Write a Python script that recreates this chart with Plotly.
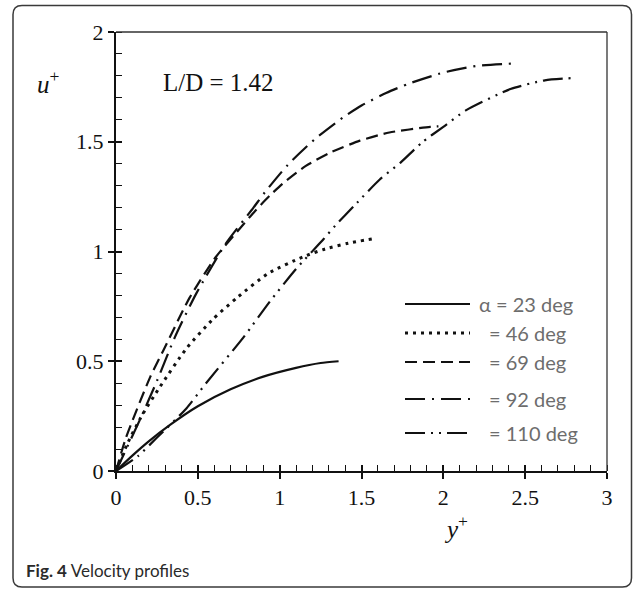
import plotly.graph_objects as go

# ---------------- data ----------------
x_23 = [0, 0.1, 0.2, 0.33, 0.5, 0.7, 0.9, 1.1, 1.25, 1.36]
u_23 = [0, 0.07, 0.135, 0.21, 0.295, 0.372, 0.43, 0.47, 0.492, 0.50]

x_46 = [0, 0.07, 0.16, 0.27, 0.43, 0.59, 0.74, 0.93, 1.14, 1.28, 1.42, 1.57]
u_46 = [0, 0.125, 0.255, 0.385, 0.558, 0.69, 0.79, 0.90, 0.975, 1.012, 1.038, 1.058]

x_69 = [0, 0.06, 0.21, 0.29, 0.45, 0.61, 0.74, 0.85, 0.94, 1.02, 1.16, 1.31, 1.49, 1.67, 1.92, 1.97]
u_69 = [0, 0.15, 0.43, 0.55, 0.79, 0.975, 1.09, 1.185, 1.255, 1.31, 1.39, 1.451, 1.505, 1.542, 1.568, 1.57]

x_92 = [0, 0.05, 0.15, 0.25, 0.36, 0.49, 0.67, 0.84, 0.91, 1.05, 1.22, 1.39, 1.5, 1.65, 1.79, 2.0, 2.2, 2.44]
u_92 = [0, 0.08, 0.24, 0.41, 0.61, 0.808, 1.035, 1.2, 1.27, 1.395, 1.515, 1.612, 1.665, 1.722, 1.765, 1.815, 1.845, 1.857]

x_110 = [0, 0.134, 0.246, 0.43, 0.55, 0.78, 0.94, 1.1, 1.27, 1.34, 1.46, 1.61, 1.74, 1.87, 2.0, 2.14, 2.41, 2.62, 2.79]
u_110 = [0, 0.068, 0.149, 0.285, 0.40, 0.61, 0.772, 0.92, 1.058, 1.118, 1.212, 1.327, 1.406, 1.497, 1.568, 1.644, 1.74, 1.78, 1.79]

series_labels = ["α = 23 deg", "= 46 deg", "= 69 deg", "= 92 deg", "= 110 deg"]
x_ticks = [0, 0.5, 1, 1.5, 2, 2.5, 3]
y_ticks = [0, 0.5, 1, 1.5, 2]

# ---------------- geometry ----------------
FW, FH = 634, 589
ML, MR, MT, MB = 116, 27, 32, 118
PW, PH = FW - ML - MR, FH - MT - MB


def px(xp):
    return (xp - ML) / PW


def py(yp):
    return (FH - MB - yp) / PH


dashes = ["solid", "3px,5px", "12px,6px", "20px,7px,2px,7px", "20px,6px,2px,6px,2px,6px"]
widths = [2.2, 3, 2.2, 2.2, 2.2]
xs = [x_23, x_46, x_69, x_92, x_110]
us = [u_23, u_46, u_69, u_92, u_110]

fig = go.Figure()
for xv, uv, d, w, name in zip(xs, us, dashes, widths, series_labels):
    fig.add_trace(go.Scatter(x=xv, y=uv, mode="lines", name=name,
                             line=dict(color="#111111", width=w, dash=d, shape="spline", smoothing=0.6),
                             showlegend=False, hoverinfo="skip"))

# invisible trace for the overlay axes (inner half of the major ticks)
fig.add_trace(go.Scatter(x=[0], y=[0], xaxis="x2", yaxis="y2", mode="markers",
                         marker=dict(opacity=0), showlegend=False, hoverinfo="skip"))

tickfont = dict(family="Liberation Serif, Times New Roman, serif", size=22, color="#111111")

fig.update_layout(
    width=FW, height=FH,
    margin=dict(l=ML, r=MR, t=MT, b=MB),
    paper_bgcolor="white", plot_bgcolor="white",
    xaxis=dict(range=[0, 3], tickvals=x_ticks, ticktext=[str(t) for t in x_ticks],
               showgrid=False, zeroline=False, showline=True, linecolor="#111111", linewidth=2,
               ticks="outside", ticklen=6, tickwidth=1.5, tickcolor="#111111",
               minor=dict(ticks="inside", ticklen=6, tickwidth=1.2, tickcolor="#111111", dtick=0.1, tick0=0, showgrid=False),
               tickfont=tickfont, fixedrange=True),
    yaxis=dict(range=[0, 2], tickvals=y_ticks, ticktext=[str(t) for t in y_ticks],
               showgrid=False, zeroline=False, showline=True, linecolor="#111111", linewidth=2,
               ticks="outside", ticklen=6, tickwidth=1.5, tickcolor="#111111",
               minor=dict(ticks="inside", ticklen=6, tickwidth=1.2, tickcolor="#111111", dtick=0.1, tick0=0, showgrid=False),
               tickfont=tickfont, fixedrange=True),
    xaxis2=dict(range=[0, 3], overlaying="x", tickvals=x_ticks, ticks="inside", ticklen=6, tickwidth=1.5,
                tickcolor="#111111", showticklabels=False, showgrid=False, zeroline=False, showline=False),
    yaxis2=dict(range=[0, 2], overlaying="y", tickvals=y_ticks, ticks="inside", ticklen=6, tickwidth=1.5,
                tickcolor="#111111", showticklabels=False, showgrid=False, zeroline=False, showline=False),
)

shapes = []
# top and right border of plot box
shapes.append(dict(type="line", xref="paper", yref="paper", x0=0, x1=1, y0=1, y1=1,
                   line=dict(color="#333333", width=1.3)))
shapes.append(dict(type="line", xref="paper", yref="paper", x0=1, x1=1, y0=0, y1=1,
                   line=dict(color="#333333", width=1.3)))

# outer rounded frame
fx0, fx1, fy0, fy1 = 13, 631.5, 5.5, 587
r = 9
X = lambda v: px(v)
Y = lambda v: py(v)
path = (f"M {X(fx0 + r)},{Y(fy0)} L {X(fx1 - r)},{Y(fy0)} Q {X(fx1)},{Y(fy0)} {X(fx1)},{Y(fy0 + r)} "
        f"L {X(fx1)},{Y(fy1 - r)} Q {X(fx1)},{Y(fy1)} {X(fx1 - r)},{Y(fy1)} "
        f"L {X(fx0 + r)},{Y(fy1)} Q {X(fx0)},{Y(fy1)} {X(fx0)},{Y(fy1 - r)} "
        f"L {X(fx0)},{Y(fy0 + r)} Q {X(fx0)},{Y(fy0)} {X(fx0 + r)},{Y(fy0)} Z")
shapes.append(dict(type="path", xref="paper", yref="paper", path=path,
                   line=dict(color="#3a3a3a", width=1.5)))

# legend samples
leg_rows = [304, 333, 362, 399, 433]
for yy, d, w in zip(leg_rows, dashes, widths):
    shapes.append(dict(type="line", xref="paper", yref="paper", x0=px(405), x1=px(470),
                       y0=py(yy), y1=py(yy), line=dict(color="#111111", width=w, dash=d)))
fig.update_layout(shapes=shapes)

annotations = []
legfont = dict(family="Lato, Open Sans, sans-serif", size=20, color="#6d6d6d")
for i, (yy, lab) in enumerate(zip(leg_rows, series_labels)):
    annotations.append(dict(xref="paper", yref="paper", x=px(477 if i == 0 else 487), y=py(yy),
                            xanchor="left", yanchor="middle", text=lab, showarrow=False, font=legfont))

serif = "Liberation Serif, Times New Roman, serif"
annotations.append(dict(xref="paper", yref="paper", x=px(161), y=py(82), xanchor="left", yanchor="middle",
                        text="L/D = 1.42", showarrow=False, font=dict(family=serif, size=25, color="#111111")))
annotations.append(dict(xref="paper", yref="paper", x=px(48), y=py(82), xanchor="center", yanchor="middle",
                        text="<i>u</i><sup>+</sup>", showarrow=False, font=dict(family=serif, size=25, color="#111111")))
annotations.append(dict(xref="paper", yref="paper", x=px(456), y=py(527), xanchor="center", yanchor="middle",
                        text="<i>y</i><sup>+</sup>", showarrow=False, font=dict(family=serif, size=25, color="#111111")))
annotations.append(dict(xref="paper", yref="paper", x=px(24), y=py(570), xanchor="left", yanchor="middle",
                        text="<b>Fig. 4</b> Velocity profiles", showarrow=False,
                        font=dict(family="Lato, Open Sans, sans-serif", size=17, color="#2a2a2a")))
fig.update_layout(annotations=annotations)

fig.write_html("out.html")
